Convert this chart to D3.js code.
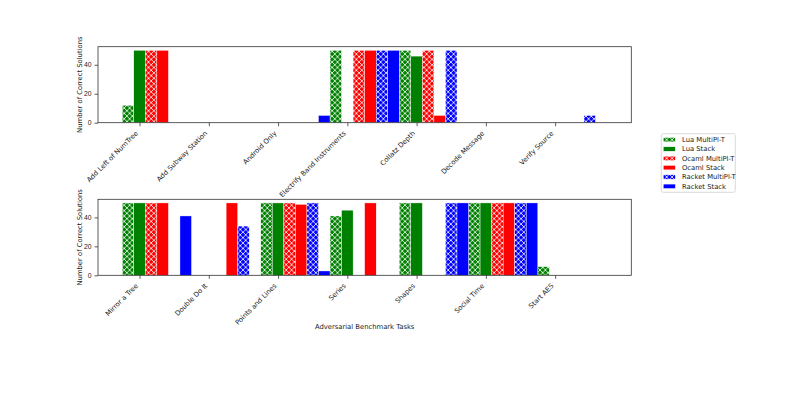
<!DOCTYPE html>
<html>
<head>
<meta charset="utf-8">
<script src="https://cdn.jsdelivr.net/npm/d3@7"></script>
<style>
  body { margin: 0; background: #fff; }
  svg { display: block; font-family: "DejaVu Sans", sans-serif; }
  .tick-label { font-size: 6.8px; fill: #222; }
  .axis-title { font-size: 6.8px; fill: #222; }
  .legend-label { font-size: 6.8px; fill: #222; }
</style>
</head>
<body>
<div id="chart"></div>
<script>
// series names (legend order)
var seriesNames = ['Lua MultiPl-T', 'Lua Stack', 'Ocaml MultiPl-T', 'Ocaml Stack', 'Racket MultiPl-T', 'Racket Stack'];

// top panel
var topTasks = ['Add Left of NumTree', 'Add Subway Station', 'Android Only', 'Electrify Band Instruments', 'Collatz Depth', 'Decode Message', 'Verify Source'];
var topLuaMulti    = [12, 0, 0, 50, 50, 0, 0];
var topLuaStack    = [50, 0, 0, 0, 46, 0, 0];
var topOcamlMulti  = [50, 0, 0, 50, 50, 0, 0];
var topOcamlStack  = [50, 0, 0, 50, 5, 0, 0];
var topRacketMulti = [0, 0, 0, 50, 50, 0, 5];
var topRacketStack = [0, 0, 5, 50, 0, 0, 0];

// bottom panel
var bottomTasks = ['Mirror a Tree', 'Double Do It', 'Points and Lines', 'Series', 'Shapes', 'Social Time', 'Start AES'];
var botLuaMulti    = [50, 0, 50, 41, 50, 50, 6];
var botLuaStack    = [50, 0, 50, 45, 50, 50, 0];
var botOcamlMulti  = [50, 0, 50, 0, 0, 50, 0];
var botOcamlStack  = [50, 50, 49, 50, 0, 50, 0];
var botRacketMulti = [0, 34, 50, 0, 50, 50, 0];
var botRacketStack = [41, 0, 3, 0, 50, 50, 0];

var yTicks = [0, 20, 40];

var seriesColors = ['#008000', '#008000', '#ff0000', '#ff0000', '#0000ff', '#0000ff'];
var seriesHatched = [true, false, true, false, true, false];
var seriesOffsets = [-1, 0, 1, 2, 3, 4];

var width = 789, height = 394;
var svg = d3.select('#chart').append('svg')
  .attr('width', width)
  .attr('height', height);

// hatch patterns (white cross hatch over the series colour)
var hp = 5.4;
var defs = svg.append('defs');
['#008000', '#ff0000', '#0000ff'].forEach(function(c, i) {
  var p = defs.append('pattern')
    .attr('id', 'hatch' + i)
    .attr('patternUnits', 'userSpaceOnUse')
    .attr('width', hp)
    .attr('height', hp);
  p.append('rect').attr('width', hp).attr('height', hp).attr('fill', c);
  p.append('path')
    .attr('d', 'M0,0L' + hp + ',' + hp + 'M0,' + hp + 'L' + hp + ',0' +
      'M-1,1L1,-1M' + (hp - 1) + ',' + (hp + 1) + 'L' + (hp + 1) + ',' + (hp - 1) +
      'M-1,' + (hp - 1) + 'L1,' + (hp + 1) + 'M' + (hp - 1) + ',-1L' + (hp + 1) + ',1')
    .attr('stroke', '#fff')
    .attr('stroke-width', 0.8);
});

function fillFor(si) {
  if (seriesHatched[si]) return 'url(#hatch' + Math.floor(si / 2) + ')';
  return seriesColors[si];
}

var plotLeft = 98, plotRight = 631.3;
var panelHeight = 76;
var barW = 1 / 6;

var x = d3.scaleLinear().domain([-0.6, 7.1]).range([plotLeft, plotRight]);

function drawPanel(top, tasks, seriesData) {
  var y = d3.scaleLinear().domain([0, 52.5]).range([top + panelHeight, top]);
  var g = svg.append('g');

  // bars
  seriesData.forEach(function(vals, si) {
    g.selectAll('.bar-' + si)
      .data(vals)
      .enter().append('rect')
        .attr('class', 'bar-' + si)
        .attr('x', function(d, i) { return x(i + seriesOffsets[si] * barW - barW / 2); })
        .attr('width', x(barW) - x(0))
        .attr('y', function(d) { return y(d); })
        .attr('height', function(d) { return y(0) - y(d); })
        .attr('fill', fillFor(si))
        .attr('stroke', '#fff')
        .attr('stroke-width', 0.4);
  });

  // frame
  g.append('rect')
    .attr('x', plotLeft)
    .attr('y', top)
    .attr('width', plotRight - plotLeft)
    .attr('height', panelHeight)
    .attr('fill', 'none')
    .attr('stroke', '#333')
    .attr('stroke-width', 0.8);

  // y axis
  var yAxis = d3.axisLeft(y).tickValues(yTicks).tickSize(3.5).tickPadding(3);
  var ya = g.append('g').attr('transform', 'translate(' + plotLeft + ',0)').call(yAxis);
  ya.select('.domain').remove();
  ya.selectAll('line').attr('stroke', '#333').attr('stroke-width', 0.8);
  ya.selectAll('text').attr('class', 'tick-label').attr('font-family', null).attr('font-size', null);

  // x axis
  var xAxis = d3.axisBottom(x).tickValues(d3.range(tasks.length)).tickSize(3.5).tickFormat('');
  var xa = g.append('g').attr('transform', 'translate(0,' + (top + panelHeight) + ')').call(xAxis);
  xa.select('.domain').remove();
  xa.selectAll('line').attr('stroke', '#333').attr('stroke-width', 0.8);

  g.selectAll('.xlabel')
    .data(tasks)
    .enter().append('text')
      .attr('class', 'tick-label')
      .attr('text-anchor', 'end')
      .attr('transform', function(d, i) {
        return 'translate(' + (x(i) - 1.1) + ',' + (top + panelHeight + 11) + ') rotate(-45)';
      })
      .text(function(d) { return d; });

  // y title
  g.append('text')
    .attr('class', 'axis-title')
    .attr('text-anchor', 'middle')
    .attr('transform', 'translate(82,' + (top + panelHeight / 2) + ') rotate(-90)')
    .text('Number of Correct Solutions');
}

drawPanel(46.7, topTasks, [topLuaMulti, topLuaStack, topOcamlMulti, topOcamlStack, topRacketMulti, topRacketStack]);
drawPanel(199.3, bottomTasks, [botLuaMulti, botLuaStack, botOcamlMulti, botOcamlStack, botRacketMulti, botRacketStack]);

svg.append('text')
  .attr('class', 'axis-title')
  .attr('text-anchor', 'middle')
  .attr('x', (plotLeft + plotRight) / 2)
  .attr('y', 329)
  .text('Adversarial Benchmark Tasks');

// legend
var legend = svg.append('g').attr('transform', 'translate(661.3,133.7)');
legend.append('rect')
  .attr('width', 74)
  .attr('height', 58.6)
  .attr('rx', 2)
  .attr('fill', '#fff')
  .attr('stroke', '#d0d0d0')
  .attr('stroke-width', 0.8);

var items = legend.selectAll('.legend-item')
  .data(seriesNames)
  .enter().append('g')
    .attr('class', 'legend-item')
    .attr('transform', function(d, i) { return 'translate(0,' + (6 + i * 9.32) + ')'; });

items.append('rect')
  .attr('x', 2)
  .attr('y', -2.2)
  .attr('width', 12)
  .attr('height', 4.4)
  .attr('fill', function(d, i) { return fillFor(i); })
  .attr('stroke', '#fff')
  .attr('stroke-width', 0.4);

items.append('text')
  .attr('class', 'legend-label')
  .attr('x', 20.7)
  .attr('dy', '0.35em')
  .text(function(d) { return d; });
</script>
</body>
</html>
